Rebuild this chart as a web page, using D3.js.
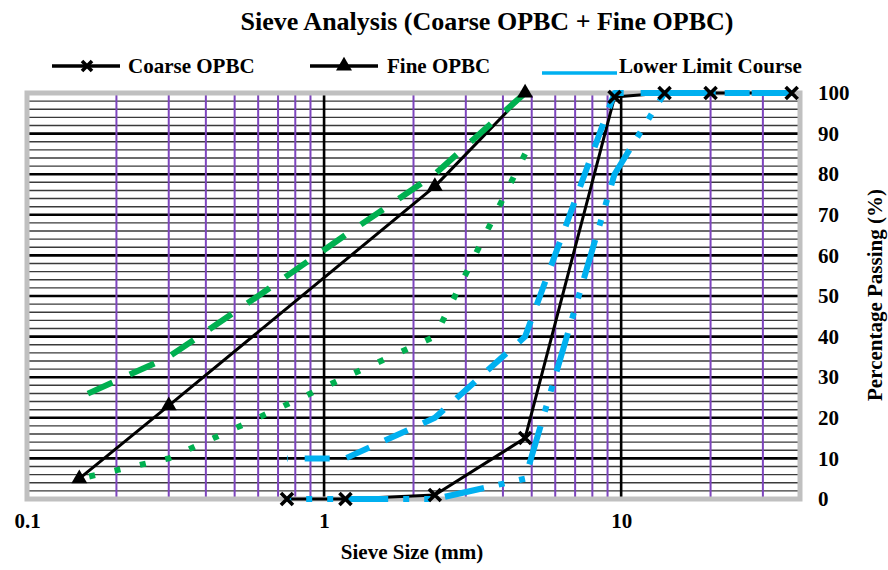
<!DOCTYPE html>
<html><head><meta charset="utf-8">
<script src="https://cdn.jsdelivr.net/npm/d3@7"></script>
<style>
body{margin:0;background:#fff;}
svg text{font-family:"Liberation Serif","Times New Roman",serif;font-weight:bold;fill:#000;}
</style></head>
<body><svg id="c" width="888" height="570"></svg>
<script>
// ---- data ----
const coarseSize = [37.5, 20, 14, 9.5, 4.75, 2.36, 1.18, 0.75];
const coarsePass = [100, 100, 100, 99, 15, 1, 0, 0];
const fineSize = [4.75, 2.36, 0.3, 0.15];
const finePass = [100, 77, 23, 5];
const fineLimSize = [4.75, 2.36, 1.18, 0.6, 0.3, 0.15];
const upperFine = [100, 80, 65, 50, 35, 25];
const lowerFine = [85, 40, 30, 20, 10, 5];
const coarseLimSize = [37.5, 20, 14, 9.5, 4.75, 2.36, 1.18, 0.75];
const upperCoarse = [100, 100, 100, 100, 40, 20, 10, 10];
const lowerCoarse = [100, 100, 100, 80, 5, 0, 0, 0];
const xTicks = [0.1, 1, 10];
const yTicks = [0, 10, 20, 30, 40, 50, 60, 70, 80, 90, 100];
const legendNames = ["Coarse OPBC", "Fine OPBC", "Lower Limit Course"];
const titleText = "Sieve Analysis (Coarse OPBC + Fine OPBC)";
const xTitle = "Sieve Size (mm)";
const yTitle = "Percentage Passing (%)";

const svg = d3.select("#c");
const L = 27, R = 800, T = 93, B = 499;
const x = d3.scaleLog().domain([0.1, 40]).range([L, R]);
const y = d3.scaleLinear().domain([0, 100]).range([B, T]);

// grid horizontal
const minorY = d3.range(2, 100, 2).filter(v => v % 10 !== 0);
svg.append("g").selectAll("line").data(minorY).join("line")
  .attr("x1", L).attr("x2", R).attr("y1", d => y(d)).attr("y2", d => y(d))
  .attr("stroke", "#3a3a3a").attr("stroke-width", 1.4);
svg.append("g").selectAll("line").data(yTicks).join("line")
  .attr("x1", L).attr("x2", R).attr("y1", d => y(d)).attr("y2", d => y(d))
  .attr("stroke", "#000").attr("stroke-width", 2.6);
// grid vertical
const minorX = [];
[0.1, 1, 10].forEach(dec => { for (let k = 2; k <= 9; k++) { const v = dec * k; if (v < 40) minorX.push(v); } });
svg.append("g").selectAll("line").data(minorX).join("line")
  .attr("x1", d => x(d)).attr("x2", d => x(d)).attr("y1", T).attr("y2", B)
  .attr("stroke", "#7d45bd").attr("stroke-width", 2);
svg.append("g").selectAll("line").data([1, 10]).join("line")
  .attr("x1", d => x(d)).attr("x2", d => x(d)).attr("y1", T).attr("y2", B)
  .attr("stroke", "#000").attr("stroke-width", 2.6);
// frame
svg.append("rect").attr("x", L).attr("y", T).attr("width", R - L).attr("height", B - T)
  .attr("fill", "none").attr("stroke", "#c0c0c0").attr("stroke-width", 5);

// axes
const ya = svg.append("g").attr("transform", `translate(${R},0)`)
  .call(d3.axisRight(y).tickValues(yTicks).tickSize(0).tickPadding(18));
ya.select(".domain").remove();
ya.selectAll("text").style("font-size", "21px").style("font-family", "Liberation Serif").style("font-weight", "bold");
const xa = svg.append("g").attr("transform", `translate(0,${B})`)
  .call(d3.axisBottom(x).tickValues(xTicks).tickFormat(d => String(d)).tickSize(0).tickPadding(14));
xa.select(".domain").remove();
xa.selectAll("text").style("font-size", "21px").style("font-family", "Liberation Serif").style("font-weight", "bold");

// series lines
const line = d3.line().x(d => x(d[0])).y(d => y(d[1]));
const zip = (a, b) => a.map((v, i) => [v, b[i]]);
function path(data, color, w, dash) {
  svg.append("path").datum(data).attr("d", line).attr("fill", "none")
    .attr("stroke", color).attr("stroke-width", w)
    .attr("stroke-dasharray", dash || null).attr("stroke-linejoin", "round");
}
path(zip(coarseSize, coarsePass), "#000", 3);
path(zip(fineSize, finePass), "#000", 3);
path(zip(fineLimSize, upperFine), "#00b050", 6, "27,19");
path(zip(fineLimSize, lowerFine), "#00b050", 6, "6,20");
path(zip(coarseLimSize, upperCoarse), "#00b0f0", 6, "25,17");
path(zip(coarseLimSize, lowerCoarse), "#00b0f0", 6, "40,15,6,15,6,15");

// markers
function xMark(g, cx, cy, s) {
  g.append("path").attr("d", `M${cx - s},${cy - s}L${cx + s},${cy + s}M${cx - s},${cy + s}L${cx + s},${cy - s}`)
    .attr("stroke", "#000").attr("stroke-width", 3.6).attr("fill", "none");
}
const mk = svg.append("g");
zip(coarseSize, coarsePass).forEach(d => xMark(mk, x(d[0]), y(d[1]), 6));
const tri = d3.symbol().type(d3.symbolTriangle).size(110);
mk.selectAll("path.tri").data(zip(fineSize, finePass)).join("path").attr("class", "tri")
  .attr("d", tri).attr("transform", d => `translate(${x(d[0])},${y(d[1])})`).attr("fill", "#000");

// title
svg.append("text").attr("x", 487).attr("y", 30).attr("text-anchor", "middle")
  .style("font-size", "26px").text(titleText);
// legend
const lg = svg.append("g");
lg.append("line").attr("x1", 52).attr("x2", 120).attr("y1", 66).attr("y2", 66).attr("stroke", "#000").attr("stroke-width", 3.5);
xMark(lg, 87, 66, 5);
lg.append("text").attr("x", 128).attr("y", 73).style("font-size", "21px").text(legendNames[0]);
lg.append("line").attr("x1", 310).attr("x2", 378).attr("y1", 66).attr("y2", 66).attr("stroke", "#000").attr("stroke-width", 3.5);
lg.append("path").attr("d", tri).attr("transform", "translate(344,66)").attr("fill", "#000");
lg.append("text").attr("x", 387).attr("y", 73).style("font-size", "21px").text(legendNames[1]);
lg.append("line").attr("x1", 542).attr("x2", 617).attr("y1", 73).attr("y2", 73).attr("stroke", "#00b0f0").attr("stroke-width", 3.5);
lg.append("text").attr("x", 619).attr("y", 73).style("font-size", "21px").text(legendNames[2]);
// axis titles
svg.append("text").attr("x", 412).attr("y", 559).attr("text-anchor", "middle").style("font-size", "21px").text(xTitle);
svg.append("text").attr("transform", "translate(882,295) rotate(-90)").attr("text-anchor", "middle")
  .style("font-size", "21px").text(yTitle);
</script></body></html>
